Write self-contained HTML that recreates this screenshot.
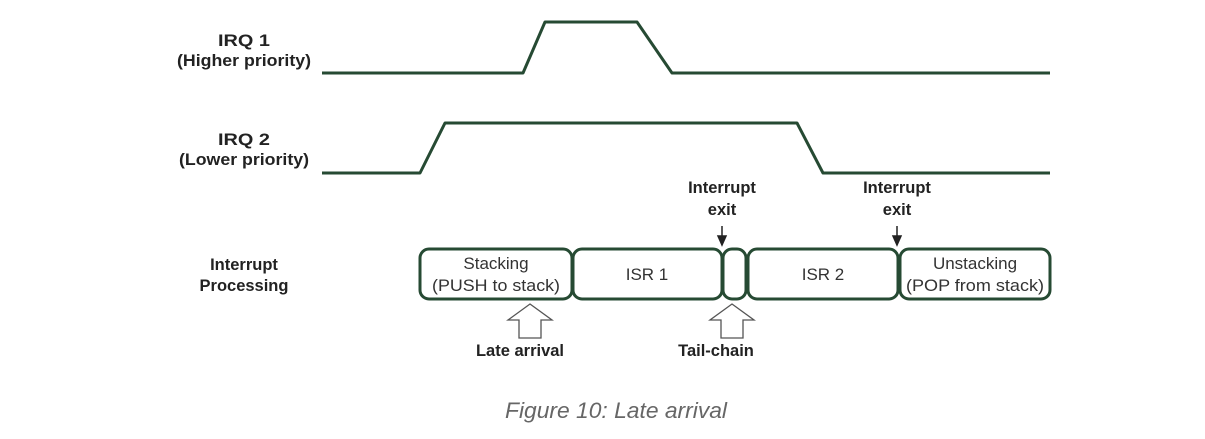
<!DOCTYPE html>
<html><head><style>
body{margin:0;background:#fff;width:1205px;height:434px;overflow:hidden}
svg text{font-family:"Liberation Sans",sans-serif}
</style></head><body>
<svg width="1205" height="434" viewBox="0 0 1205 434">
<g fill="none" stroke="#264a33" stroke-width="3" stroke-linejoin="round">
<polyline points="322,73 523,73 545,22 637,22 672,73 1050,73"/>
<polyline points="322,173 420,173 445,123 797,123 823,173 1050,173"/>
<rect x="420" y="249" width="152" height="50" rx="9"/>
<rect x="573" y="249" width="149" height="50" rx="9"/>
<rect x="723" y="249" width="23" height="50" rx="9"/>
<rect x="748" y="249" width="150" height="50" rx="9"/>
<rect x="900" y="249" width="150" height="50" rx="9"/>
</g>
<g stroke="#222" stroke-width="1.5" fill="#222">
<line x1="722" y1="226" x2="722" y2="238"/><polygon points="718,236 726,236 722,245"/>
<line x1="897" y1="226" x2="897" y2="238"/><polygon points="893,236 901,236 897,245"/>
</g>
<g fill="#fff" stroke="#555" stroke-width="1.3">
<polygon points="530,304 552,320 541,320 541,338 519,338 519,320 508,320"/>
<polygon points="732,304 754,320 743,320 743,338 721,338 721,320 710,320"/>
</g>
<g font-weight="bold" font-size="16.5" fill="#222" text-anchor="middle">
<text x="244" y="46" textLength="52" lengthAdjust="spacingAndGlyphs">IRQ 1</text>
<text x="244" y="66" textLength="134" lengthAdjust="spacingAndGlyphs">(Higher priority)</text>
<text x="244" y="145" textLength="52" lengthAdjust="spacingAndGlyphs">IRQ 2</text>
<text x="244" y="165" textLength="130" lengthAdjust="spacingAndGlyphs">(Lower priority)</text>
<text x="244" y="270">Interrupt</text><text x="244" y="291">Processing</text>
<text x="722" y="193">Interrupt</text><text x="722" y="215">exit</text>
<text x="897" y="193">Interrupt</text><text x="897" y="215">exit</text>
<text x="520" y="356">Late arrival</text>
<text x="716" y="356">Tail-chain</text>
</g>
<g font-size="17" fill="#333" text-anchor="middle">
<text x="496" y="269">Stacking</text><text x="496" y="291" textLength="128" lengthAdjust="spacingAndGlyphs">(PUSH to stack)</text>
<text x="647" y="280">ISR 1</text>
<text x="823" y="280">ISR 2</text>
<text x="975" y="269">Unstacking</text><text x="975" y="291" textLength="138" lengthAdjust="spacingAndGlyphs">(POP from stack)</text>
</g>
<text x="616" y="418" font-size="22" font-style="italic" fill="#666" text-anchor="middle" textLength="222" lengthAdjust="spacingAndGlyphs">Figure 10: Late arrival</text>
</svg>
</body></html>
